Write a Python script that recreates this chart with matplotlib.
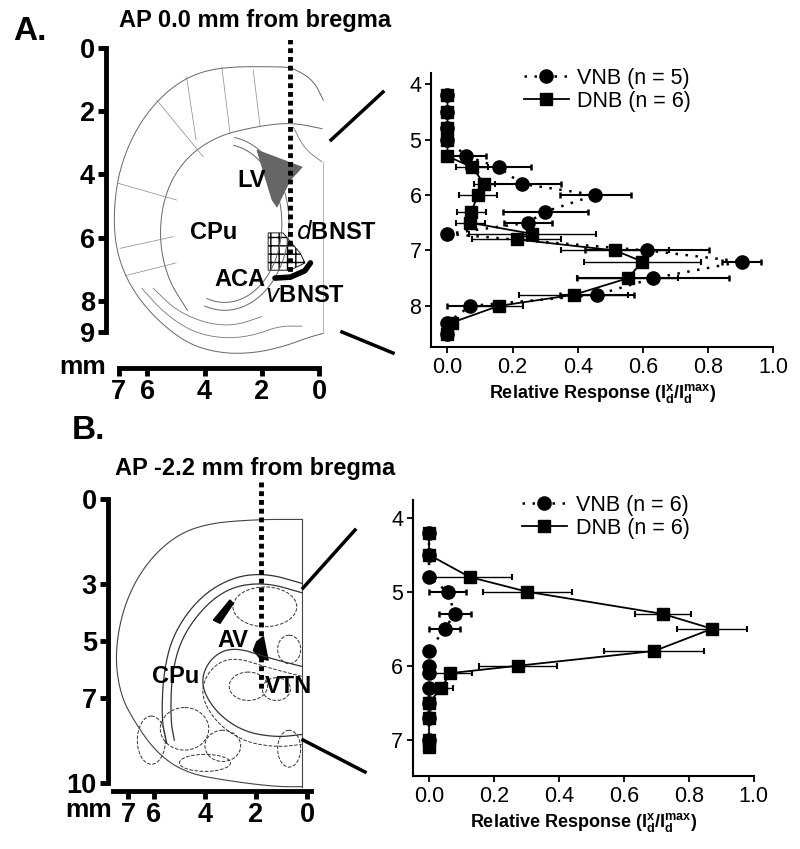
import numpy as np
import matplotlib
matplotlib.use('Agg')
import matplotlib.pyplot as plt
from matplotlib.patches import Polygon, Ellipse
from matplotlib.lines import Line2D

plt.rcParams['font.family'] = ['Liberation Sans', 'DejaVu Sans']
plt.rcParams['mathtext.fontset'] = 'custom'
plt.rcParams['mathtext.rm'] = 'Liberation Sans'
plt.rcParams['mathtext.bf'] = 'Liberation Sans:bold'

# ---- recording profiles (depth in mm, response, SEM) ----
vnb_a_depth = [4.2, 4.5, 4.8, 5.0, 5.3, 5.5, 5.8, 6.0, 6.3, 6.5, 6.7, 7.0, 7.2, 7.5, 7.8, 8.0, 8.3, 8.5]
vnb_a_resp = [0, 0, 0, 0, 0.058, 0.157, 0.229, 0.454, 0.30, 0.246, 0, 0.613, 0.904, 0.631, 0.459, 0.07, 0, 0]
vnb_a_err = [0, 0, 0, 0, 0.059, 0.10, 0.118, 0.11, 0.13, 0.074, 0, 0.19, 0.06, 0.234, 0.115, 0.07, 0, 0]

dnb_a_depth = [4.2, 4.5, 4.8, 5.0, 5.3, 5.5, 5.8, 6.0, 6.3, 6.5, 6.7, 6.8, 7.0, 7.2, 7.5, 7.8, 8.0, 8.3, 8.5]
dnb_a_resp = [0, 0, 0, 0, 0, 0.076, 0.113, 0.094, 0.073, 0.07, 0.26, 0.212, 0.515, 0.598, 0.554, 0.387, 0.157, 0.014, 0]
dnb_a_err = [0, 0, 0, 0, 0, 0.049, 0.032, 0.059, 0.045, 0.045, 0.195, 0.138, 0.165, 0.18, 0.155, 0.166, 0.075, 0, 0]

vnb_b_depth = [4.2, 4.5, 4.8, 5.0, 5.3, 5.5, 5.8, 6.0, 6.1, 6.3, 6.5, 6.7, 7.0]
vnb_b_resp = [0, 0, 0, 0.057, 0.08, 0.048, 0, 0, 0, 0, 0, 0, 0]
vnb_b_err = [0, 0, 0, 0.057, 0.048, 0.048, 0, 0, 0, 0, 0, 0, 0]

dnb_b_depth = [4.2, 4.5, 4.8, 5.0, 5.3, 5.5, 5.8, 6.0, 6.1, 6.3, 6.5, 6.7, 7.0, 7.1]
dnb_b_resp = [0, 0, 0.125, 0.303, 0.721, 0.872, 0.694, 0.274, 0.065, 0.038, 0, 0, 0, 0]
dnb_b_err = [0, 0, 0.13, 0.137, 0.087, 0.107, 0.154, 0.12, 0.066, 0.036, 0, 0, 0, 0]

x_ticks = [0.0, 0.2, 0.4, 0.6, 0.8, 1.0]
a_depth_ticks = [4, 5, 6, 7, 8]
b_depth_ticks = [4, 5, 6, 7]

# ---- atlas sketch outlines (mm: lateral, depth) ----
a_outer = [(-0.15, 1.65), (0.2, 1.01), (0.9, 0.64), (1.25, 0.59), (3.4, 0.59), (4.63, 0.91),
           (5.67, 1.65), (6.49, 2.7), (7.02, 3.97), (7.19, 5.34), (7.07, 6.5), (6.6, 7.55),
           (5.79, 8.5), (4.63, 9.35), (3.46, 9.66), (2.3, 9.66), (1.25, 9.45), (0.31, 9.14),
           (-0.15, 9.03)]
a_radial = [[(5.67, 1.65), (4.05, 3.44)], [(7.02, 4.28), (4.98, 4.81)], [(6.96, 6.34), (5.09, 5.97)],
            [(6.75, 7.2), (5.0, 6.8)], [(3.4, 0.59), (3.11, 2.7)], [(2.3, 0.7), (2.06, 2.49)],
            [(4.63, 0.91), (4.3, 2.9)]]
a_lv = [(2.17, 3.23), (0.59, 3.77), (1.01, 4.18), (1.47, 5.03), (1.64, 4.81)]
a_hatch = [(1.78, 5.85), (1.26, 5.85), (0.66, 6.49), (0.49, 6.8), (1.01, 7.03), (1.78, 7.03)]
a_aca = [(1.54, 7.28), (1.0, 7.25), (0.5, 7.05), (0.3, 6.8)]

b_outer = [(0.21, 0.72), (1.97, 0.72), (3.93, 0.86), (5.24, 1.33), (6.42, 2.39), (7.2, 3.8),
           (7.53, 5.44), (7.33, 6.85), (6.81, 7.79), (5.89, 8.96), (4.72, 9.67), (2.89, 9.96),
           (1.19, 10.14), (0.21, 10.14)]
b_inner = [(0.21, 2.97), (1.58, 2.62), (2.89, 2.74), (4.2, 3.44), (5.24, 4.73), (5.63, 6.14),
           (5.7, 7.79), (5.5, 8.6)]
b_inner2 = [(0.21, 3.3), (1.58, 2.95), (2.89, 3.07), (3.95, 3.7), (4.9, 4.85), (5.3, 6.14),
            (5.35, 7.79), (5.2, 8.5)]
b_hippo = [(0.21, 5.9), (1.5, 5.6), (2.9, 5.2), (3.8, 5.6), (4.2, 6.5), (3.6, 7.5),
           (2.5, 8.2), (1.2, 8.4), (0.21, 8.3)]
b_av = [(1.97, 5.03), (1.71, 4.85), (1.58, 5.44), (1.52, 5.68), (1.84, 5.62), (2.1, 5.33)]
b_lv = [(3.67, 4.27), (3.02, 3.56), (2.89, 3.68), (3.41, 4.38)]
b_ellipses = [(1.65, 3.8, 2.5, 1.4), (0.7, 5.3, 0.9, 1.0), (1.2, 6.7, 1.1, 0.8),
              (4.8, 8.1, 1.9, 1.5), (3.3, 8.7, 1.4, 1.1), (0.7, 8.8, 0.9, 1.3),
              (6.1, 8.5, 1.1, 1.7), (2.3, 6.6, 1.5, 1.0), (4.0, 9.3, 2.0, 0.6)]


def smooth(pts, n=3):
    p = np.asarray(pts, float)
    for _ in range(n):
        q = 0.75 * p[:-1] + 0.25 * p[1:]
        r = 0.25 * p[:-1] + 0.75 * p[1:]
        p = np.vstack([p[:1], np.column_stack([q, r]).reshape(-1, 2), p[-1:]])
    return p


fig = plt.figure(figsize=(8.0, 8.49), dpi=100)


def scale_axes(ax, yticks, xticks, ybounds, xbounds):
    for s in ['top', 'right']:
        ax.spines[s].set_visible(False)
    for s in ['left', 'bottom']:
        ax.spines[s].set_linewidth(3.5)
    ax.spines['left'].set_bounds(*ybounds)
    ax.spines['bottom'].set_bounds(*xbounds)
    ax.set_yticks(yticks)
    ax.set_xticks(xticks)
    ax.set_yticklabels([str(t) for t in yticks], fontweight='bold')
    ax.set_xticklabels([str(t) for t in xticks], fontweight='bold')
    ax.tick_params(direction='out', length=6, width=3.5, labelsize=19.5, pad=2)
    ax.patch.set_alpha(0)


# ---- panel A atlas ----
axA = fig.add_axes([0.1324, 0.5664, 0.28, 0.3863])
axA.set_xlim(7.45, -0.38)
axA.set_ylim(10.13, -0.25)
scale_axes(axA, [0, 2, 4, 6, 8, 9], [7, 6, 4, 2, 0], (0, 9), (7, 0))
o = smooth(a_outer)
axA.plot(o[:, 0], o[:, 1], color='#666666', lw=0.7)
inner = smooth([(-0.1, 2.55), (1.0, 2.35), (2.3, 2.5), (3.6, 2.8), (4.7, 3.5), (5.4, 4.6),
                (5.6, 6.0), (5.3, 7.3), (4.6, 8.3)])
axA.plot(inner[:, 0], inner[:, 1], color='#666666', lw=0.7)
t = np.linspace(0.55 * np.pi, 1.6 * np.pi, 100)
axA.plot(3.3 + 2.0 * np.cos(t), 5.55 - 2.5 * np.sin(t), color='#666666', lw=0.7)
axA.plot(3.3 + 2.25 * np.cos(t), 5.55 - 2.75 * np.sin(t), color='#666666', lw=0.7)
for seg in a_radial:
    s = np.asarray(seg)
    axA.plot(s[:, 0], s[:, 1], color='#888888', lw=0.5)
low = smooth([(6.2, 7.6), (5.4, 8.4), (4.4, 9.0), (3.3, 9.2), (2.3, 9.1), (1.4, 8.8), (0.6, 8.8)])
axA.plot(low[:, 0], low[:, 1], color='#777777', lw=0.6)
low2 = smooth([(5.8, 7.6), (5.0, 8.3), (4.0, 8.7), (3.0, 8.8), (2.0, 8.5)])
axA.plot(low2[:, 0], low2[:, 1], color='#777777', lw=0.6)
mid = smooth([(0.9, 2.5), (0.5, 3.2), (-0.1, 3.6)])
axA.plot(mid[:, 0], mid[:, 1], color='#777777', lw=0.6)
axA.plot([-0.15, -0.15], [3.6, 9.0], color='#999999', lw=0.5)
axA.add_patch(Polygon(a_lv, closed=True, facecolor='#666666', edgecolor='#555555', lw=0.5))
axA.add_patch(Polygon(a_hatch, closed=True, facecolor='white', edgecolor='black', lw=0.6,
                      hatch='++'))
aca = np.asarray(a_aca)
axA.plot(aca[:, 0], aca[:, 1], color='black', lw=4, solid_capstyle='round')
axA.plot([1.0, 1.0], [-0.3, 7.25], color='black', lw=3.5, ls=(0, (1, 0.8)))
lab = dict(fontsize=17, fontweight='bold', va='center')
axA.text(2.34, 4.18, 'LV', ha='center', **lab)
axA.text(3.7, 5.85, 'CPu', ha='center', **lab)
axA.text(0.8, 5.85, r'$\mathbf{\mathit{d}}$BNST', ha='left', **lab)
axA.text(2.76, 7.34, 'ACA', ha='center', **lab)
axA.text(1.89, 7.82, r'$\mathbf{\mathit{v}}$BNST', ha='left', **lab)

# ---- panel B atlas ----
axB = fig.add_axes([0.135, 0.0687, 0.2647, 0.3903])
axB.set_xlim(7.8, -0.5)
axB.set_ylim(10.28, -1.4)
scale_axes(axB, [0, 3, 5, 7, 10], [7, 6, 4, 2, 0], (0, 10), (7.6, -0.16))
o = smooth(b_outer)
axB.plot(o[:, 0], o[:, 1], color='#444444', lw=0.8)
axB.plot([0.21, 0.21], [0.72, 10.14], color='#444444', lw=0.8)
for pts in (b_inner, b_inner2):
    p = smooth(pts)
    axB.plot(p[:, 0], p[:, 1], color='#333333', lw=0.9)
p = smooth(b_hippo)
axB.plot(p[:, 0], p[:, 1], color='#333333', lw=0.9)
p = smooth([(px, py + 0.35) for px, py in b_hippo])
axB.plot(p[:, 0], p[:, 1], color='#333333', lw=0.7, ls='--')
for cx, cy, w, h in b_ellipses:
    axB.add_patch(Ellipse((cx, cy), w, h, fill=False, edgecolor='#333333', lw=0.7, ls='--'))
axB.add_patch(Polygon(b_av, closed=True, facecolor='black', edgecolor='black'))
axB.add_patch(Polygon(b_lv, closed=True, facecolor='black', edgecolor='black'))
axB.plot([1.8, 1.8], [-0.6, 6.73], color='black', lw=3.5, ls=(0, (1, 0.8)))
axB.text(2.9, 4.97, 'AV', ha='center', **lab)
axB.text(5.15, 6.26, 'CPu', ha='center', **lab)
axB.text(1.65, 6.6, 'VTN', ha='left', **lab)


# ---- profile plots ----
def profile(ax, dv, rv, ev, dd, rd, ed, nv, nd, ylim, yticks, leg_x):
    ax.errorbar(rv, dv, xerr=ev, fmt='none', ecolor='black', elinewidth=1.5,
                capsize=2.5, capthick=1.8, zorder=2)
    ax.errorbar(rd, dd, xerr=ed, fmt='none', ecolor='black', elinewidth=1.0,
                capsize=2.5, capthick=1.5, zorder=2)
    ax.plot(rv, dv, color='black', ls=(0, (1, 3)), lw=1.8, marker='o', ms=9.5,
            label='VNB (n = %d)' % nv, zorder=3)
    ax.plot(rd, dd, color='black', ls='-', lw=1.3, marker='s', ms=8.5,
            label='DNB (n = %d)' % nd, zorder=4)
    ax.set_ylim(*ylim)
    ax.set_xlim(-0.05, 1.0)
    ax.set_yticks(yticks)
    ax.set_xticks(x_ticks)
    ax.set_xticklabels(['%.1f' % v for v in x_ticks])
    for s in ['top', 'right']:
        ax.spines[s].set_visible(False)
    for s in ['left', 'bottom']:
        ax.spines[s].set_linewidth(1.5)
    ax.tick_params(direction='out', length=4, width=1.3, labelsize=15.5, pad=3)
    ax.set_xlabel(r'Relative Response (I$\mathbf{_d^x}$/I$\mathbf{_d^{max}}$)',
                  fontsize=13, fontweight='bold', labelpad=3)
    ax.legend(loc='upper left', bbox_to_anchor=(leg_x, 1.02), frameon=False,
              fontsize=15.5, handlelength=2.1, handletextpad=0.4, labelspacing=0.1,
              borderaxespad=0, borderpad=0, numpoints=1)


axPA = fig.add_axes([0.539, 0.5913, 0.4275, 0.3227])
profile(axPA, vnb_a_depth, vnb_a_resp, vnb_a_err, dnb_a_depth, dnb_a_resp, dnb_a_err,
        5, 6, (8.74, 3.8), a_depth_ticks, 0.27)
axPB = fig.add_axes([0.516, 0.086, 0.426, 0.325])
profile(axPB, vnb_b_depth, vnb_b_resp, vnb_b_err, dnb_b_depth, dnb_b_resp, dnb_b_err,
        6, 6, (7.49, 3.76), b_depth_ticks, 0.32)

# ---- titles, panel letters, connectors ----
fig.text(13 / 800, 1 - 32 / 849, 'A.', fontsize=24, fontweight='bold', va='center')
fig.text(72 / 800, 1 - 430 / 849, 'B.', fontsize=24, fontweight='bold', va='center')
fig.text(119 / 800, 1 - 21 / 849, 'AP 0.0 mm from bregma', fontsize=17, fontweight='bold', va='center')
fig.text(115 / 800, 1 - 468 / 849, 'AP -2.2 mm from bregma', fontsize=17, fontweight='bold', va='center')
fig.text(83 / 800, 1 - 367 / 849, 'mm', fontsize=19, fontweight='bold', va='center', ha='center')
fig.text(89 / 800, 1 - 810 / 849, 'mm', fontsize=19, fontweight='bold', va='center', ha='center')
for (x0, y0, x1, y1) in [(331, 140, 383, 92), (342, 332, 393, 353),
                         (303, 588, 355, 530), (303, 740, 365, 772)]:
    fig.add_artist(Line2D([x0 / 800, x1 / 800], [1 - y0 / 849, 1 - y1 / 849],
                          transform=fig.transFigure, color='black', lw=2.5))

fig.savefig('out.png', dpi=100)
